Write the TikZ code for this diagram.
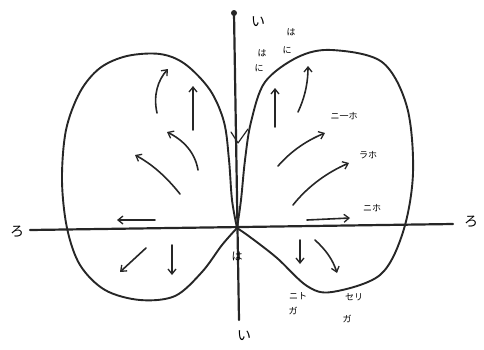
\documentclass[tikz,border=0pt]{standalone}
\usepackage{fontspec}
\newfontfamily\jp{Noto Sans CJK JP}
\usetikzlibrary{arrows.meta}
\begin{document}
\begin{tikzpicture}[x=1pt,y=-1pt, line cap=round, line join=round,
 curve/.style={line width=1.9pt, black!85},
 axisline/.style={line width=2.2pt, black!85},
 flow/.style={line width=1.6pt, black!85, -{Straight Barb[length=5pt,width=8pt,line width=1.3pt]}},
 lab/.style={font=\jp\fontsize{14}{14}\selectfont, inner sep=0pt},
 slab/.style={font=\jp\fontsize{9}{9}\selectfont, inner sep=0pt}]
\useasboundingbox (0,0) rectangle (484,349);
% axes
\draw[axisline] (30,230) -- (453,224);
\draw[axisline] (234,13) -- (239,320);
\fill[black!85] (234,13) circle (3pt);
% left lobe
\draw[curve] plot[smooth, tension=0.55] coordinates {(237,228) (232,200) (229,160) (224,122) (210,90) (185,64) (160,54) (127,56) (100,68) (80,92) (66,130) (62,180) (67,228) (80,265) (105,290) (140,300) (175,296) (202,272) (222,245) (237,228)};
% right lobe
\draw[curve] plot[smooth, tension=0.55] coordinates {(237,228) (250,237) (277,258) (307,286) (332,292) (380,275) (403,232) (413,173) (407,107) (382,62) (332,50) (298,57) (265,82) (251,122) (245,160) (241,200) (237,228)};
% neck mark
\draw[curve, line width=1.2pt] (231,132) -- (238,143) -- (248,129);
% arrows left lobe
\draw[flow] (157,113) .. controls (153,95) and (158,80) .. (168,69);
\draw[flow] (193,130) -- (193,86);
\draw[flow] (198,170) .. controls (195,152) and (183,140) .. (167,132);
\draw[flow] (180,194) .. controls (165,175) and (150,163) .. (135,155);
\draw[flow] (155,220) -- (117,220);
\draw[flow] (146,248) -- (120,272);
\draw[flow] (172,245) -- (172,275);
% arrows right lobe
\draw[flow] (275,127) -- (275,88);
\draw[flow] (298,112) .. controls (306,95) and (308,80) .. (308,66);
\draw[flow] (278,166) .. controls (292,150) and (308,140) .. (325,133);
\draw[flow] (293,205) .. controls (308,186) and (328,172) .. (349,163);
\draw[flow] (307,220) -- (350,218);
\draw[flow] (300,240) -- (300,264);
\draw[flow] (315,240) .. controls (326,250) and (333,260) .. (337,273);
% labels
\node[lab] (itop) at (258,22) {い};
\node[lab] (ibot) at (244,336) {い};
\node[lab] (rol) at (17,232) {ろ};
\node[lab] (ror) at (471,222) {ろ};
\node[slab, font=\jp\fontsize{11}{11}\selectfont] (ha) at (237,256) {は};
\node[slab] (t1a) at (262,53) {は};
\node[slab] (t1b) at (259,68) {に};
\node[slab] (t2a) at (291,32) {は};
\node[slab] (t2b) at (287,50) {に};
\node[slab] (r1) at (344,116) {ニ一ホ};
\node[slab] (r2) at (368,155) {ラホ};
\node[slab] (r3) at (372,208) {ニホ};
\node[slab] (b1a) at (298,296) {ニト};
\node[slab] (b1b) at (293,311) {ガ};
\node[slab] (b2a) at (354,297) {セリ};
\node[slab] (b2b) at (347,319) {ガ};
\end{tikzpicture}
\end{document}
